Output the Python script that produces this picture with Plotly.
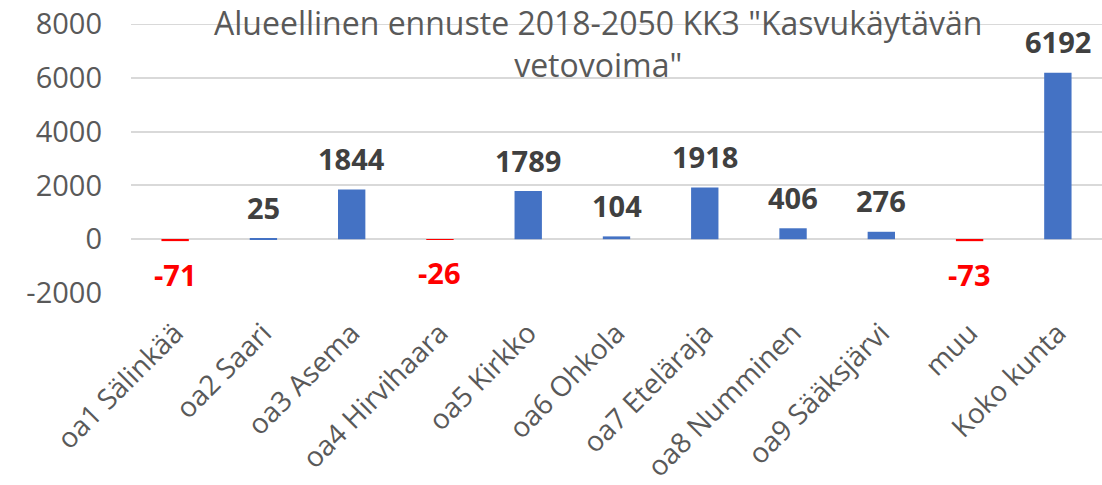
import plotly.graph_objects as go

# Data
categories = ["oa1 Sälinkää", "oa2 Saari", "oa3 Asema", "oa4 Hirvihaara", "oa5 Kirkko",
              "oa6 Ohkola", "oa7 Eteläraja", "oa8 Numminen", "oa9 Sääksjärvi", "muu", "Koko kunta"]
values = [-71, 25, 1844, -26, 1789, 104, 1918, 406, 276, -73, 6192]
y_ticks = [-2000, 0, 2000, 4000, 6000, 8000]

title_text = 'Alueellinen ennuste 2018-2050 KK3 "Kasvukäytävän<br>vetovoima"'

bar_colors = ["#FF0000" if v < 0 else "#4472C4" for v in values]

W, H = 1102, 485
L, T, B = 131, 24, 192

fig = go.Figure()
fig.add_trace(go.Bar(
    x=categories,
    y=values,
    marker=dict(color=bar_colors, line=dict(width=0)),
    width=0.31,
    hoverinfo="x+y",
))

# Value labels (bold, red for negatives)
for cat, v in zip(categories, values):
    fig.add_annotation(
        x=cat, y=v,
        text=f"<b>{v}</b>",
        showarrow=False,
        yshift=31 if v >= 0 else -33,
        font=dict(family="Open Sans", size=29, color="#FF0000" if v < 0 else "#404040"),
    )

# top gridline gets dropped at the plot edge, draw it explicitly
fig.add_hline(y=y_ticks[-1], line=dict(color="#D9D9D9", width=2), layer="below")

# Title overlaps the plot area like the original
plot_h = H - T - B
fig.add_annotation(
    x=(598 - L) / (W - L), y=1 + (T + 1) / plot_h, xref="paper", yref="paper",
    xanchor="center", yanchor="top",
    text=title_text, showarrow=False,
    font=dict(family="Open Sans", size=32, color="#595959"),
)

fig.update_layout(
    width=W,
    height=H,
    margin=dict(l=L, r=0, t=T, b=B),
    plot_bgcolor="white",
    paper_bgcolor="white",
    showlegend=False,
    font=dict(family="Open Sans", color="#595959"),
)
fig.update_yaxes(
    range=[-2000, 8000],
    tickvals=y_ticks,
    ticktext=[str(t) for t in y_ticks],
    showgrid=True, gridcolor="#D9D9D9", gridwidth=2,
    zeroline=True, zerolinecolor="#D9D9D9", zerolinewidth=2,
    tickfont=dict(family="Open Sans", size=29, color="#595959"),
    ticks="", ticklabelstandoff=28,
    automargin=False,
)
fig.update_xaxes(
    tickangle=-45,
    tickfont=dict(family="Open Sans", size=28, color="#595959"),
    showline=False, showgrid=False,
    ticklabelstandoff=17,
    automargin=False,
)

# drop the default 8px page margin so the figure sits at the window corner
fig.write_html("out.html", config={"displayModeBar": False},
               post_script="document.body.style.margin='0';")
